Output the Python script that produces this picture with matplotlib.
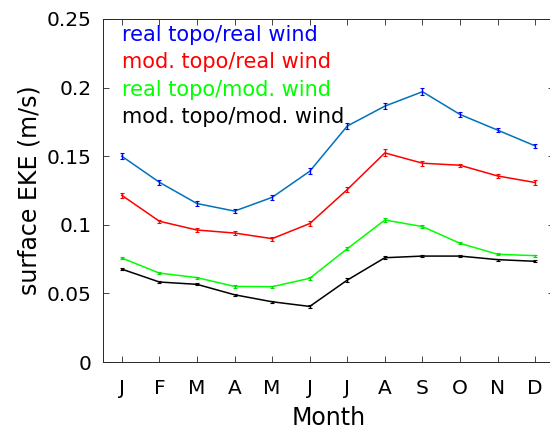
import matplotlib
matplotlib.use("Agg")
import matplotlib.pyplot as plt

plt.rcParams['font.family'] = ['DejaVu Sans']

months = ['J', 'F', 'M', 'A', 'M', 'J', 'J', 'A', 'S', 'O', 'N', 'D']
x = list(range(1, 13))

real_real = [0.150, 0.131, 0.1155, 0.110, 0.120, 0.139, 0.172, 0.1865, 0.197, 0.1804, 0.169, 0.1575]
mod_real = [0.1215, 0.1026, 0.0962, 0.094, 0.0899, 0.1009, 0.1257, 0.1524, 0.1449, 0.1434, 0.1356, 0.1308]
real_mod = [0.0758, 0.0648, 0.0615, 0.0551, 0.0549, 0.061, 0.0826, 0.1035, 0.0987, 0.0865, 0.0785, 0.0775]
mod_mod = [0.0677, 0.0583, 0.0566, 0.049, 0.0439, 0.0405, 0.0597, 0.076, 0.0772, 0.0772, 0.0746, 0.0734]

err_real_real = [0.002, 0.0018, 0.0018, 0.0012, 0.0018, 0.0022, 0.002, 0.0024, 0.0024, 0.0018, 0.0012, 0.0015]
err_mod_real = [0.0018, 0.0012, 0.0012, 0.0012, 0.0015, 0.0018, 0.0018, 0.0025, 0.0018, 0.0012, 0.0015, 0.0018]
err_real_mod = [0.001, 0.0008, 0.0008, 0.0008, 0.0008, 0.001, 0.001, 0.0012, 0.001, 0.0008, 0.0008, 0.0008]
err_mod_mod = [0.001, 0.0008, 0.0008, 0.0008, 0.0008, 0.0008, 0.0012, 0.0012, 0.0008, 0.0008, 0.0008, 0.0008]

labels = ['real topo/real wind', 'mod. topo/real wind', 'real topo/mod. wind', 'mod. topo/mod. wind']
label_colors = ['#0000FF', '#FF0000', '#00FF00', '#000000']
label_y = [0.234, 0.214, 0.194, 0.174]

fig = plt.figure(figsize=(5.5, 4.3), dpi=100)
ax = fig.add_axes([103 / 550, 68 / 430, 451 / 550, 343 / 430])

series = [
    (real_real, err_real_real, '#0072BD', '#0000FF'),
    (mod_real, err_mod_real, '#FF0000', '#FF0000'),
    (real_mod, err_real_mod, '#00FF00', '#00DD00'),
    (mod_mod, err_mod_mod, '#000000', '#000000'),
]
for y, e, lc, ec in series:
    ax.plot(x, y, color=lc, lw=1.1)
    ax.errorbar(x, y, yerr=e, fmt='none', ecolor=ec, elinewidth=1.0, capsize=1.5, capthick=0.8)

for t, c, yy in zip(labels, label_colors, label_y):
    ax.text(1.0, yy, t, color=c, fontsize=15, va='baseline', ha='left')

ax.set_xlim(0.5, 12.5)
ax.set_ylim(0, 0.25)
ax.set_xticks(x)
ax.set_xticklabels(months)
ax.set_yticks([0, 0.05, 0.1, 0.15, 0.2, 0.25])
ax.set_yticklabels(['0', '0.05', '0.1', '0.15', '0.2', '0.25'])
ax.tick_params(direction='in', top=True, right=True, length=4, width=0.6,
               color='#262626', labelsize=14.5)
ax.tick_params(axis='x', pad=12)
ax.tick_params(axis='y', pad=8)
for s in ax.spines.values():
    s.set_color('#262626')
    s.set_linewidth(0.7)

ax.set_xlabel('Month', fontsize=17, labelpad=6)
ax.set_ylabel('surface EKE (m/s)', fontsize=17, labelpad=4)

fig.savefig('out.png', dpi=100)
